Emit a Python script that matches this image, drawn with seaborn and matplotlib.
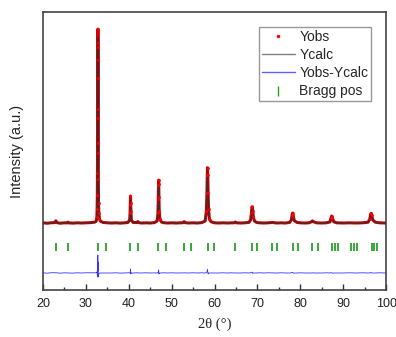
import numpy as np
import pandas as pd
import matplotlib
matplotlib.use("Agg")
import matplotlib.pyplot as plt
import seaborn as sns
from matplotlib.ticker import MultipleLocator
from matplotlib.lines import Line2D

# perfil de difracao (2theta, Yobs, Ycalc)
two_theta = [20.0, 21.0, 22.0, 22.7, 23.0, 23.3, 24.0, 25.0, 25.6, 25.8, 26.0, 27.0, 28.0, 29.0, 30.0, 31.0,
             32.0, 32.4, 32.55, 32.62, 32.67, 32.70, 32.72, 32.74, 32.76, 32.78, 32.80, 32.82, 32.84, 32.86,
             32.88, 32.91, 32.95, 33.02, 33.15, 33.4, 34.0, 35.0, 36.0, 37.0, 38.0, 39.0,
             39.8, 40.2, 40.3, 40.35, 40.40, 40.45, 40.50, 40.6, 41.0, 41.8, 42.1, 42.4, 43.0, 44.0, 45.0,
             46.0, 46.6, 46.8, 46.88, 46.93, 46.96, 46.99, 47.03, 47.1, 47.25, 47.6, 48.0, 49.0, 50.0, 51.0,
             52.0, 52.6, 52.9, 53.2, 54.0, 55.0, 56.0, 57.0,
             57.8, 58.1, 58.22, 58.3, 58.36, 58.42, 58.5, 58.6, 58.8, 59.2, 60.0, 61.0, 62.0, 63.0,
             64.0, 64.6, 64.85, 65.1, 66.0, 67.0,
             68.0, 68.4, 68.6, 68.72, 68.8, 68.9, 69.05, 69.3, 69.8, 70.5, 71.5, 72.5, 73.5, 74.5, 75.5, 76.5,
             77.5, 77.9, 78.1, 78.2, 78.35, 78.6, 79.2, 80.0, 81.0,
             82.0, 82.6, 82.85, 83.1, 83.8, 85.0, 86.0,
             86.9, 87.15, 87.3, 87.45, 87.8, 88.5, 90.0, 91.5, 93.0, 94.5,
             95.8, 96.2, 96.4, 96.5, 96.65, 96.9, 97.5, 98.5, 100.0]
y_obs = [10, -10, 15, 20, 110, 15, -10, 10, 5, 45, 5, -5, 10, 0, 10, 20,
         40, 90, 300, 700, 1400, 2500, 3500, 5250, 7250, 8800, 9700, 9000, 8150, 5700,
         4000, 2200, 1000, 500, 220, 90, 30, 10, 0, 10, -5, 10,
         30, 150, 500, 900, 1350, 1000, 600, 150, 30, 20, 70, 15, 0, 10, 0,
         20, 100, 500, 1200, 1900, 2150, 1950, 1300, 600, 200, 50, 20, 0, 10, 0,
         10, 15, 70, 15, 0, 10, 0, 20,
         100, 600, 1500, 2400, 2770, 2400, 1500, 700, 200, 60, 10, 0, 10, 0,
         10, 10, 50, 10, 0, 10,
         30, 150, 500, 800, 820, 600, 300, 100, 30, 10, 0, 10, 30, 0, 10, 0,
         30, 150, 420, 500, 350, 120, 30, 10, 0,
         10, 60, 110, 60, 10, 0, 10,
         50, 250, 350, 250, 60, 10, 0, 10, 0, 10,
         40, 200, 430, 480, 380, 150, 40, 10, 0]
y_calc = [0, 0, 0, 10, 95, 10, 0, 0, 5, 40, 5, 0, 0, 0, 0, 10,
          30, 80, 250, 650, 1500, 2600, 3700, 5400, 6800, 7900, 9250, 8900, 7600, 5900,
          4200, 2300, 1100, 520, 230, 90, 30, 10, 0, 0, 0, 10,
          30, 140, 480, 850, 1150, 1050, 580, 160, 30, 15, 60, 15, 0, 0, 0,
          15, 100, 480, 1150, 1800, 2000, 1900, 1350, 620, 200, 50, 10, 0, 0, 0,
          10, 10, 60, 10, 0, 0, 0, 10,
          100, 580, 1450, 2300, 2600, 2350, 1550, 700, 200, 60, 10, 0, 0, 0,
          0, 10, 45, 10, 0, 0,
          30, 140, 480, 760, 780, 620, 300, 100, 30, 0, 0, 0, 25, 0, 0, 0,
          30, 140, 400, 470, 360, 120, 30, 0, 0,
          10, 60, 100, 60, 10, 0, 0,
          50, 240, 330, 260, 60, 10, 0, 0, 0, 0,
          40, 190, 420, 450, 380, 150, 40, 0, 0]

# posicoes de Bragg
bragg_pos = [23.0, 25.8, 32.8, 34.8, 40.4, 42.1, 46.9, 48.7, 52.9, 54.4, 58.4, 59.8, 64.8, 68.7, 69.8,
             73.4, 74.6, 78.2, 79.5, 82.7, 84.1, 87.3, 88.0, 88.7, 91.8, 92.5, 93.3, 96.7, 97.2, 97.8]

bragg_level = -1200
diff_offset = -2500

dados = pd.DataFrame({'tt': two_theta, 'obs': y_obs, 'calc': y_calc})
dados['diff'] = dados['obs'] - dados['calc'] + diff_offset

sns.set_style("ticks")
plt.rcParams['font.family'] = ['Liberation Sans', 'DejaVu Sans']

fig = plt.figure(figsize=(3.96, 3.37), dpi=100)
ax = fig.add_axes([0.1086, 0.1395, 0.8664, 0.8245])

# faixa vermelha do Yobs + linha calculada + pontos
sns.lineplot(data=dados, x='tt', y='obs', color='#cc0000', linewidth=2.2, ax=ax, zorder=2)
sns.lineplot(data=dados, x='tt', y='calc', color='#303030', linewidth=0.75, ax=ax, zorder=3)
sns.scatterplot(data=dados[dados['obs'] > 150], x='tt', y='obs', color='red', s=4, linewidth=0,
                ax=ax, zorder=4)
sns.lineplot(data=dados, x='tt', y='diff', color='#3333ff', linewidth=0.6, ax=ax, zorder=2)
ax.plot(bragg_pos, [bragg_level] * len(bragg_pos), linestyle='none', marker='|',
        markersize=6, markeredgewidth=1.3, color='#2aa02a', zorder=2)

ax.set_xlim(20, 100)
ax.set_ylim(-3350, 10550)
ax.xaxis.set_major_locator(MultipleLocator(10))
ax.xaxis.set_minor_locator(MultipleLocator(5))
ax.tick_params(axis='x', which='major', direction='in', length=4, width=1, colors='#333333',
               labelsize=9, labelcolor='#222222', pad=6)
ax.tick_params(axis='x', which='minor', direction='in', length=2.5, width=1, colors='#333333')
ax.set_yticks([])
for s in ax.spines.values():
    s.set_color('#444444')
    s.set_linewidth(1.2)

ax.set_xlabel('2θ (°)', family=['Liberation Serif', 'DejaVu Serif'], fontsize=10.5, labelpad=5)
ax.set_ylabel('Intensity (a.u.)', fontsize=10.5, labelpad=14)

handles = [
    Line2D([], [], linestyle='none', marker='.', markersize=3, color='red'),
    Line2D([], [], color='#808080', linewidth=1),
    Line2D([], [], color='#6060ff', linewidth=1),
    Line2D([], [], linestyle='none', marker='|', markersize=7, markeredgewidth=1, color='#22a022'),
]
leg = ax.legend(handles, ['Yobs', 'Ycalc', 'Yobs-Ycalc', 'Bragg pos'], loc='upper right',
                bbox_to_anchor=(0.956, 0.946), borderaxespad=0, fontsize=10, fancybox=False,
                edgecolor='#999999', framealpha=1, handlelength=2.4, handletextpad=0.3,
                labelspacing=0.3, borderpad=0.2)
leg.get_frame().set_linewidth(1)

plt.savefig('out.png', dpi=100)
